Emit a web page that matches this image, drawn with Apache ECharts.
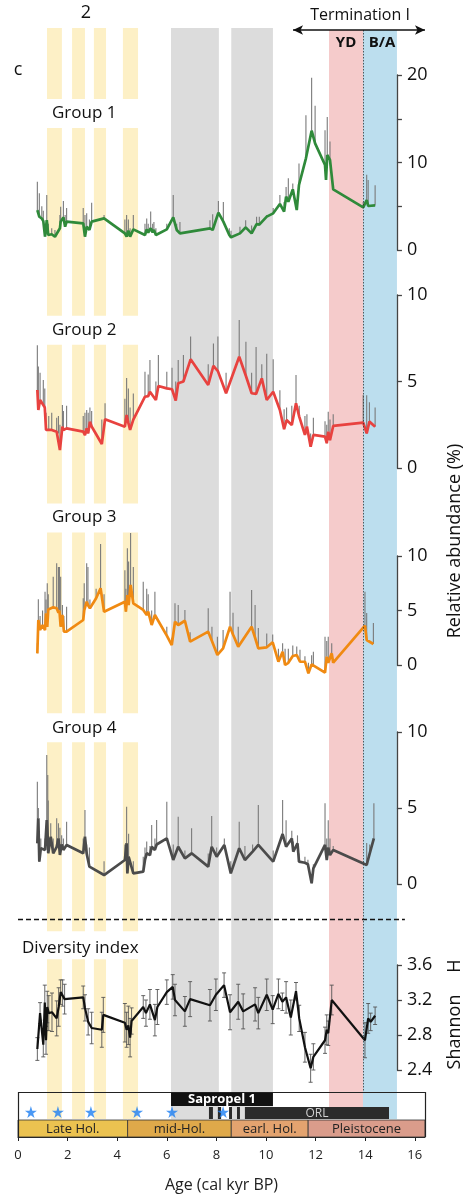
<!DOCTYPE html>
<html>
<head>
<meta charset="utf-8">
<script src="https://cdn.jsdelivr.net/npm/echarts@6/dist/echarts.min.js"></script>
<style>
  html, body { margin: 0; padding: 0; background: #fff; }
  #chart { width: 469px; height: 1198px; }
</style>
</head>
<body>
<div id="chart"></div>
<script>
/* ---------------- data (ages in cal kyr BP) ---------------- */
var g1Age = [0.78,0.86,0.96,1.02,1.09,1.16,1.22,1.36,1.49,1.69,1.72,1.83,1.9,1.96,2.63,2.70,2.77,2.88,2.97,3.47,4.31,4.38,4.45,4.52,4.65,5.12,5.19,5.25,5.35,5.43,5.48,5.56,6.0,6.26,6.4,6.53,7.74,7.85,8.08,8.28,8.52,8.59,8.95,9.18,9.42,9.62,9.73,10.03,10.29,10.56,10.73,10.81,10.9,11.08,11.24,11.33,11.61,11.84,11.98,12.38,12.42,12.47,12.58,12.71,13.92,14.06,14.12,14.4];
var g1Val = [4.57,3.8,3.6,3.3,1.52,3.4,1.71,1.8,1.52,2.48,3.24,3.73,2.67,3.24,3.05,1.52,2.67,2.29,3.24,3.62,1.9,1.52,2.2,1.52,2.36,1.71,2.36,2.0,2.48,2.0,2.3,1.71,2.36,3.73,2.29,1.9,2.48,2.29,4.27,3.24,1.71,1.45,1.9,2.59,1.9,2.97,2.9,3.81,4.19,5.26,4.38,6.1,5.52,6.93,4.57,7.43,10.48,13.64,12.19,9.71,8.0,10.86,10.29,6.93,4.88,5.71,5.03,5.1];
var g1Top = [7.8,6.5,5.0,4.5,2.5,6.3,3.0,2.5,2.3,4.0,4.95,5.6,4.0,4.8,4.8,4.0,4.2,3.5,5.4,4.0,3.5,4.0,3.5,2.5,4.0,3.0,3.6,3.0,4.4,3.0,3.2,2.5,3.0,6.3,3.0,3.2,3.4,4.1,5.6,5.5,2.5,2.2,2.67,3.4,2.8,3.8,3.8,4.0,4.8,6.3,5.5,7.2,8.2,7.6,5.5,9.9,15.4,19.7,16.5,13.7,9.0,15.2,12.4,7.5,5.5,8.6,8.0,7.4];

var g2Age = [0.78,0.82,0.89,1.02,1.08,1.13,1.24,1.36,1.56,1.63,1.69,1.79,1.83,1.96,2.63,2.70,2.77,2.83,2.90,2.97,3.38,3.51,4.31,4.38,4.45,4.52,4.65,5.12,5.25,5.32,5.56,5.66,6.0,6.21,6.36,6.46,6.67,6.96,7.67,7.88,8.06,8.39,8.92,9.19,9.42,9.6,9.83,10.03,10.29,10.56,10.73,10.83,11.04,11.21,11.34,11.57,11.65,11.8,11.91,12.38,12.45,12.51,12.58,12.71,13.92,14.06,14.17,14.4];
var g2Val = [4.51,3.35,3.93,3.64,3.5,2.2,2.2,2.2,2.1,2.0,1.04,2.39,2.2,2.29,2.1,1.9,2.3,2.0,2.68,2.4,1.39,2.82,2.39,3.06,2.6,2.2,2.8,4.12,4.15,4.41,3.93,4.74,4.6,4.55,3.9,4.9,5.0,6.28,4.8,5.9,5.6,4.32,6.43,5.32,4.32,4.28,5.18,3.93,4.41,3.35,2.24,2.77,2.49,3.74,2.97,1.91,2.4,1.23,1.91,1.81,1.43,2.1,1.6,2.43,2.62,2.0,2.68,2.39];
var g2Top = [7.1,5.86,5.5,5.09,4.6,3.2,3.0,3.2,2.9,3.0,2.5,3.64,3.3,3.6,3.0,3.2,3.35,3.2,3.5,3.3,2.8,3.74,4.0,5.2,4.6,3.5,4.3,5.57,5.4,6.24,5.0,6.53,5.57,5.8,5.0,6.24,6.53,7.6,6.0,7.2,7.6,5.5,8.55,7.3,5.5,7.0,6.0,6.6,6.28,4.5,3.4,3.5,3.6,5.38,3.6,3.0,3.1,2.0,2.9,2.7,2.5,3.25,2.8,3.1,4.22,4.2,3.8,3.49];

var g3Age = [0.78,0.82,0.89,0.99,1.09,1.13,1.18,1.22,1.42,1.56,1.63,1.67,1.72,1.79,1.85,1.96,2.63,2.67,2.77,2.82,2.90,3.15,3.33,3.47,4.31,4.35,4.41,4.46,4.54,4.65,5.05,5.19,5.25,5.39,5.52,6.0,6.2,6.33,6.46,6.73,6.94,7.67,7.82,8.04,8.27,8.55,8.67,8.88,9.42,9.56,9.69,10.03,10.27,10.5,10.67,10.77,10.9,11.08,11.24,11.37,11.57,11.71,11.84,11.91,12.38,12.45,12.51,12.65,12.71,13.99,14.06,14.33];
var g3Val = [1.07,4.13,3.21,3.67,3.2,4.74,3.5,5.1,5.29,5.2,4.8,5.0,3.51,4.59,3.06,3.06,4.13,5.0,5.81,5.5,5.2,6.12,7.04,4.89,5.81,4.89,6.42,5.5,7.34,5.66,5.05,4.59,4.9,3.67,4.59,2.7,1.83,3.97,3.67,4.06,2.14,3.06,2.2,0.92,1.53,3.51,2.8,1.68,3.51,2.5,1.53,1.62,2.08,0.3,1.22,0,0.2,0.83,0.92,0.3,0.3,-0.76,0.06,0.0,-0.7,0.76,0.2,1.07,0.21,3.61,2.29,1.93];
var g3Top = [2.0,6.03,4.5,5.0,6.72,6.0,7.5,6.5,8.1,9.33,9.0,9.0,8.1,5.5,4.5,5.35,6.12,7.5,9.33,9.0,6.0,7.0,11.1,6.5,8.7,7.0,10.7,9.5,12.1,9.0,7.64,7.0,6.5,5.0,6.72,3.51,2.5,5.66,5.5,5.05,3.0,5.2,3.5,2.6,3.2,6.72,4.8,3.5,6.88,5.5,3.4,2.9,2.8,1.5,2.0,1.5,1.5,1.8,1.7,1.4,0.8,0.2,0.9,1.22,2.6,2.2,2.6,2.0,0.5,6.72,4.77,3.85];

var g4Age = [0.78,0.82,0.86,0.92,1.09,1.16,1.2,1.22,1.32,1.42,1.56,1.63,1.69,1.76,1.83,1.96,2.63,2.70,2.77,2.88,3.47,4.31,4.38,4.41,4.46,4.65,5.05,5.12,5.19,5.32,5.39,5.52,5.59,6.0,6.26,6.46,6.73,7.0,7.67,7.81,8.01,8.32,8.58,8.92,9.15,9.46,9.69,10.29,10.67,10.81,11.04,11.1,11.27,11.33,11.57,11.69,11.84,11.91,12.38,12.45,12.51,12.58,12.71,14.06,14.18,14.35];
var g4Val = [2.68,4.32,1.47,2.35,2.24,4.21,3.0,2.02,3.11,2.02,2.45,3.0,1.91,2.6,2.24,2.57,2.02,3.11,2.0,1.14,0.59,1.58,2.68,0.7,1.8,0.7,0.81,1.58,2.02,1.9,2.45,2.24,2.6,3.0,1.58,2.45,1.69,2.02,1.14,2.45,1.8,2.57,0.7,2.35,1.58,2.13,2.57,1.47,3.29,2.45,3.0,2.13,2.68,1.47,1.4,1.3,0.05,1.03,2.57,1.58,2.4,1.9,2.24,1.25,2.0,3.0];
var g4Top = [6.73,5.0,2.5,3.0,3.0,8.49,7.17,5.5,4.0,3.0,4.32,4.0,3.7,3.2,3.0,4.1,3.0,4.87,2.6,2.4,1.5,2.6,5.09,2.0,3.3,1.5,1.8,2.4,2.8,2.5,3.88,3.0,4.21,5.41,2.6,4.43,2.2,3.66,2.0,4.47,2.4,3.0,1.5,4.1,2.5,2.6,5.2,2.2,5.53,4.2,3.5,2.8,3.2,2.0,1.8,1.6,0.3,1.3,5.31,3.0,4.2,3.0,2.5,2.7,2.6,5.31];

var divAge = [0.78,0.89,1.02,1.08,1.13,1.18,1.24,1.37,1.56,1.64,1.72,1.80,1.88,2.63,2.70,2.83,2.97,3.38,3.44,4.31,4.38,4.45,4.52,4.58,5.05,5.16,5.32,5.52,5.62,6.0,6.24,6.33,6.73,6.94,7.74,7.98,8.31,8.55,8.88,9.08,9.56,9.69,10.03,10.27,10.5,10.66,10.81,11.0,11.21,11.34,11.57,11.8,11.91,12.38,12.45,12.51,12.65,13.99,14.12,14.22,14.4];
var divVal = [2.64,3.05,2.69,3.17,2.74,3.12,3.05,3.06,2.99,3.12,3.29,3.28,3.21,3.23,3.11,2.95,2.88,2.86,3.03,2.94,2.86,2.91,2.77,2.96,3.12,3.05,3.15,2.97,3.12,3.29,3.35,3.2,3.07,3.21,3.14,3.26,3.37,3.06,3.18,3.07,3.15,3.05,3.26,3.09,3.27,3.18,3.23,3.0,3.3,2.99,2.66,2.42,2.55,2.74,2.86,2.82,3.2,2.74,2.99,2.95,3.02];
var divErr = [0.13,0.12,0.14,0.2,0.16,0.18,0.2,0.22,0.2,0.22,0.14,0.15,0.17,0.13,0.15,0.15,0.18,0.2,0.2,0.22,0.2,0.22,0.22,0.15,0.13,0.15,0.17,0.18,0.2,0.14,0.14,0.18,0.17,0.2,0.18,0.18,0.14,0.2,0.2,0.2,0.19,0.18,0.18,0.16,0.17,0.1,0.18,0.2,0.1,0.15,0.17,0.16,0.15,0.15,0.17,0.14,0.17,0.2,0.17,0.1,0.1];

// shaded intervals (ages)
var yellowBands = [[1.17,1.77],[2.18,2.7],[3.06,3.55],[4.23,4.84]];
var grayBands = [[6.17,8.1],[8.6,10.28]];
var ydBand = [12.54,13.91];
var baBand = [13.91,15.28];

// bottom strip
var periodNames = ['Late Hol.','mid-Hol.','earl. Hol.','Pleistocene'];
var periodEdges = [0, 4.42, 8.6, 11.7, 16.41];
var sapropel = [6.17,10.28];
var orlStripes = [[7.7,7.86],[8.06,8.19],[8.51,8.63],[8.83,8.95]];
var orl = [9.15,14.96];
var starAges = [0.52,1.61,2.94,4.8,6.21,8.27];

var xTicks = [0,2,4,6,8,10,12,14,16];

/* ---------------- layout / styles ---------------- */
var FONT = 'Open Sans';
var LEFT = 18;
var PX = 24.8;                 // px per kyr
var FULL_MAX = 16.41;          // right end of bottom axis
var PANEL_MAX = 15.28;         // panels end at the right y axes
var colYellow = '#fdf0c6', colGray = '#dcdcdc', colPink = '#f5cbcb', colBlue = '#bcdeee';
var periodColors = ['#ebc250','#dfa94a','#e3a36f','#da9c8b'];

// yellow bands are broken under each panel label (page px rows)
var yellowRows = [[28,99],[128,316],[345,504],[533,714],[743,932],[960,1120]];

var bandData = [];
yellowBands.forEach(function (b) {
  yellowRows.forEach(function (r) {
    bandData.push({ value: [b[0], b[1], r[0], r[1]], itemStyle: { color: colYellow } });
  });
});
grayBands.forEach(function (b) {
  bandData.push({ value: [b[0], b[1], 28, 1120], itemStyle: { color: colGray } });
});
bandData.push({ value: [ydBand[0], ydBand[1], 30, 1120], itemStyle: { color: colPink } });
bandData.push({ value: [baBand[0], baBand[1], 30, 1120], itemStyle: { color: colBlue } });

var stripData = [];
orlStripes.forEach(function (s) {
  stripData.push({ value: [s[0], s[1], 1108, 1120], itemStyle: { color: '#2b2b2b' }, txt: '' });
});
stripData.push({ value: [orl[0], orl[1], 1108, 1120], itemStyle: { color: '#2b2b2b' }, txt: 'ORL', tc: '#d0d0d0', tf: '12px ' + FONT });
stripData.push({ value: [sapropel[0], sapropel[1], 1093, 1107], itemStyle: { color: '#111' }, txt: 'Sapropel 1', tc: '#fff', tf: 'bold 13px ' + FONT });
for (var i = 0; i < periodNames.length; i++) {
  stripData.push({ value: [periodEdges[i], periodEdges[i + 1], 1121, 1138], itemStyle: { color: periodColors[i] },
    txt: periodNames[i], tc: '#222', tf: '13px ' + FONT, border: true });
}

function rectItem(params, api) {
  var a = api.coord([api.value(0), api.value(2)]);
  var b = api.coord([api.value(1), api.value(3)]);
  return { type: 'rect', shape: { x: a[0], y: a[1], width: b[0] - a[0], height: b[1] - a[1] },
    style: { fill: api.visual('color') } };
}

function labelledRect(params, api) {
  var d = stripData[params.dataIndex];
  var a = api.coord([api.value(0), api.value(2)]);
  var b = api.coord([api.value(1), api.value(3)]);
  var children = [{ type: 'rect', shape: { x: a[0], y: a[1], width: b[0] - a[0], height: b[1] - a[1] },
    style: { fill: api.visual('color'), stroke: d.border ? '#333' : null, lineWidth: 0.8 } }];
  if (d.txt) {
    children.push({ type: 'text', x: (a[0] + b[0]) / 2, y: (a[1] + b[1]) / 2 + 0.5,
      style: { text: d.txt, fill: d.tc, font: d.tf, align: 'center', verticalAlign: 'middle' } });
  }
  return { type: 'group', children: children };
}

/* ---------------- panels ---------------- */
var panels = [
  { age: g1Age, val: g1Val, top: g1Top, color: '#2f8a3a', gridTop: 75, height: 175, min: 0, max: 20, interval: 5, every10: true },
  { age: g2Age, val: g2Val, top: g2Top, color: '#e8423f', gridTop: 295, height: 173, min: 0, max: 10, interval: 5 },
  { age: g3Age, val: g3Val, top: g3Top, color: '#f08a12', gridTop: 556, height: 109, min: 0, max: 10, interval: 5 },
  { age: g4Age, val: g4Val, top: g4Top, color: '#4b4b4b', gridTop: 732, height: 152, min: 0, max: 10, interval: 5 },
  { age: divAge, val: divVal, err: divErr, color: '#111', gridTop: 965, height: 105, min: 2.4, max: 3.6, interval: 0.4 }
];

var grids = [{ left: LEFT, top: 0, width: FULL_MAX * PX, height: 1138 }];
var xAxes = [{
  gridIndex: 0, type: 'value', min: 0, max: FULL_MAX, interval: 2,
  axisLine: { onZero: false, lineStyle: { color: '#222', width: 1.2 } },
  axisTick: { length: 4, lineStyle: { color: '#222' } },
  splitLine: { show: false },
  axisLabel: { fontFamily: FONT, fontSize: 13, color: '#222', margin: 12, showMaxLabel: false,
    formatter: function (v) { return xTicks.indexOf(v) >= 0 ? String(v) : ''; } },
  name: 'Age (cal kyr BP)', nameLocation: 'middle', nameGap: 40,
  nameTextStyle: { fontFamily: FONT, fontSize: 16, color: '#222' }
}];
var yAxes = [{ gridIndex: 0, type: 'value', min: 0, max: 1138, inverse: true, show: false }];

var series = [
  { type: 'custom', xAxisIndex: 0, yAxisIndex: 0, z: 0, silent: true, renderItem: rectItem, data: bandData },
  { type: 'custom', xAxisIndex: 0, yAxisIndex: 0, z: 4, silent: true, renderItem: labelledRect, data: stripData },
  { type: 'scatter', xAxisIndex: 0, yAxisIndex: 0, z: 6, silent: true,
    symbol: 'path://M50,0 L61,35 L98,35 L68,57 L79,91 L50,70 L21,91 L32,57 L2,35 L39,35 Z',
    symbolSize: 12, itemStyle: { color: '#1b7ef2' },
    data: starAges.map(function (a) { return [a, 1113]; }) },
  { type: 'line', xAxisIndex: 0, yAxisIndex: 0, z: 5, silent: true, data: [],
    markLine: {
      silent: true, animation: false, label: { show: false },
      data: [
        [{ coord: [0, 920], symbol: 'none' }, { coord: [15.6, 920], symbol: 'none',
          lineStyle: { type: [5, 3], color: '#111', width: 1.3 } }],
        [{ coord: [ydBand[1], 30], symbol: 'none' }, { coord: [ydBand[1], 1093], symbol: 'none',
          lineStyle: { type: [1.5, 1.5], color: '#333', width: 0.8 } }],
        [{ coord: [11.09, 30], symbol: 'arrow', symbolSize: [7, 10] }, { coord: [FULL_MAX, 30], symbol: 'arrow', symbolSize: [7, 10],
          lineStyle: { type: 'solid', color: '#111', width: 1.5 } }],
        [{ coord: [0, 1093], symbol: 'none' }, { coord: [FULL_MAX, 1093], symbol: 'none',
          lineStyle: { type: 'solid', color: '#222', width: 1.2 } }],
        [{ coord: [0, 1093], symbol: 'none' }, { coord: [0, 1138], symbol: 'none',
          lineStyle: { type: 'solid', color: '#222', width: 1.2 } }],
        [{ coord: [FULL_MAX, 1093], symbol: 'none' }, { coord: [FULL_MAX, 1138], symbol: 'none',
          lineStyle: { type: 'solid', color: '#222', width: 1.2 } }]
      ]
    } }
];

panels.forEach(function (p, k) {
  var gi = k + 1;
  grids.push({ left: LEFT, top: p.gridTop, width: PANEL_MAX * PX, height: p.height });
  xAxes.push({ gridIndex: gi, type: 'value', min: 0, max: PANEL_MAX, show: false });
  yAxes.push({
    gridIndex: gi, type: 'value', position: 'right', min: p.min, max: p.max, interval: p.interval,
    axisLine: { show: true, onZero: false, lineStyle: { color: '#444', width: 1.3 } },
    axisTick: { show: true, length: 5, lineStyle: { color: '#444', width: 1.3 } },
    splitLine: { show: false },
    axisLabel: { fontFamily: FONT, fontSize: 18, color: '#111', margin: 10,
      formatter: function (v) {
        if (p.every10) return v % 10 === 0 ? String(v) : '';
        return p.err ? v.toFixed(1) : String(v);
      } }
  });
  if (p.err) {
    series.push({
      type: 'custom', xAxisIndex: gi, yAxisIndex: gi, z: 2, silent: true,
      data: p.age.map(function (a, j) { return [a, p.val[j], p.err[j]]; }),
      renderItem: function (params, api) {
        var x = api.value(0), v = api.value(1), e = api.value(2);
        var lo = api.coord([x, v - e]), hi = api.coord([x, v + e]);
        var st = { stroke: '#555', lineWidth: 0.9 };
        return { type: 'group', children: [
          { type: 'line', shape: { x1: lo[0], y1: lo[1], x2: hi[0], y2: hi[1] }, style: st },
          { type: 'line', shape: { x1: lo[0] - 2, y1: lo[1], x2: lo[0] + 2, y2: lo[1] }, style: st },
          { type: 'line', shape: { x1: hi[0] - 2, y1: hi[1], x2: hi[0] + 2, y2: hi[1] }, style: st }
        ] };
      }
    });
  } else {
    series.push({
      type: 'custom', xAxisIndex: gi, yAxisIndex: gi, z: 2, silent: true,
      data: p.age.map(function (a, j) { return [a, p.val[j], p.top[j]]; }),
      renderItem: function (params, api) {
        var lo = api.coord([api.value(0), api.value(1)]);
        var hi = api.coord([api.value(0), api.value(2)]);
        return { type: 'line', shape: { x1: lo[0], y1: lo[1], x2: hi[0], y2: hi[1] },
          style: { stroke: '#7a7a7a', lineWidth: 1.1 } };
      }
    });
  }
  series.push({
    type: 'line', xAxisIndex: gi, yAxisIndex: gi, z: 3, silent: true, clip: false,
    showSymbol: false, data: p.age.map(function (a, j) { return [a, p.val[j]]; }),
    lineStyle: { color: p.color, width: p.err ? 2.2 : 2.7 }, itemStyle: { color: p.color }
  });
});

/* ---------------- texts ---------------- */
function txt(x, y, s, size, opts) {
  opts = opts || {};
  return { type: 'text', x: x, y: y, rotation: opts.rot || 0, z: 10,
    style: { text: s, fill: '#111', font: (opts.bold ? 'bold ' : '') + size + 'px ' + FONT,
      align: opts.align || 'left', verticalAlign: 'middle' } };
}
var graphics = [
  txt(86, 13, '2', 18, { align: 'center' }),
  txt(18, 70, 'c', 18, { align: 'center' }),
  txt(360, 15, 'Termination I', 16, { align: 'center' }),
  txt(346, 43, 'YD', 15, { align: 'center', bold: true }),
  txt(382, 43, 'B/A', 15, { align: 'center', bold: true }),
  txt(52, 113, 'Group 1', 17),
  txt(52, 330, 'Group 2', 17),
  txt(52, 517, 'Group 3', 17),
  txt(52, 728, 'Group 4', 17),
  txt(22, 948, 'Diversity index', 17),
  txt(455, 541, 'Relative abundance (%)', 18, { align: 'center', rot: Math.PI / 2 }),
  txt(455, 1032, 'Shannon', 18, { align: 'center', rot: Math.PI / 2 }),
  txt(455, 966, 'H', 18, { align: 'center', rot: Math.PI / 2 })
];

var chart = echarts.init(document.getElementById('chart'), null, { renderer: 'canvas' });
chart.setOption({
  animation: false,
  backgroundColor: '#fff',
  grid: grids,
  xAxis: xAxes,
  yAxis: yAxes,
  series: series,
  graphic: graphics
});
</script>
</body>
</html>
